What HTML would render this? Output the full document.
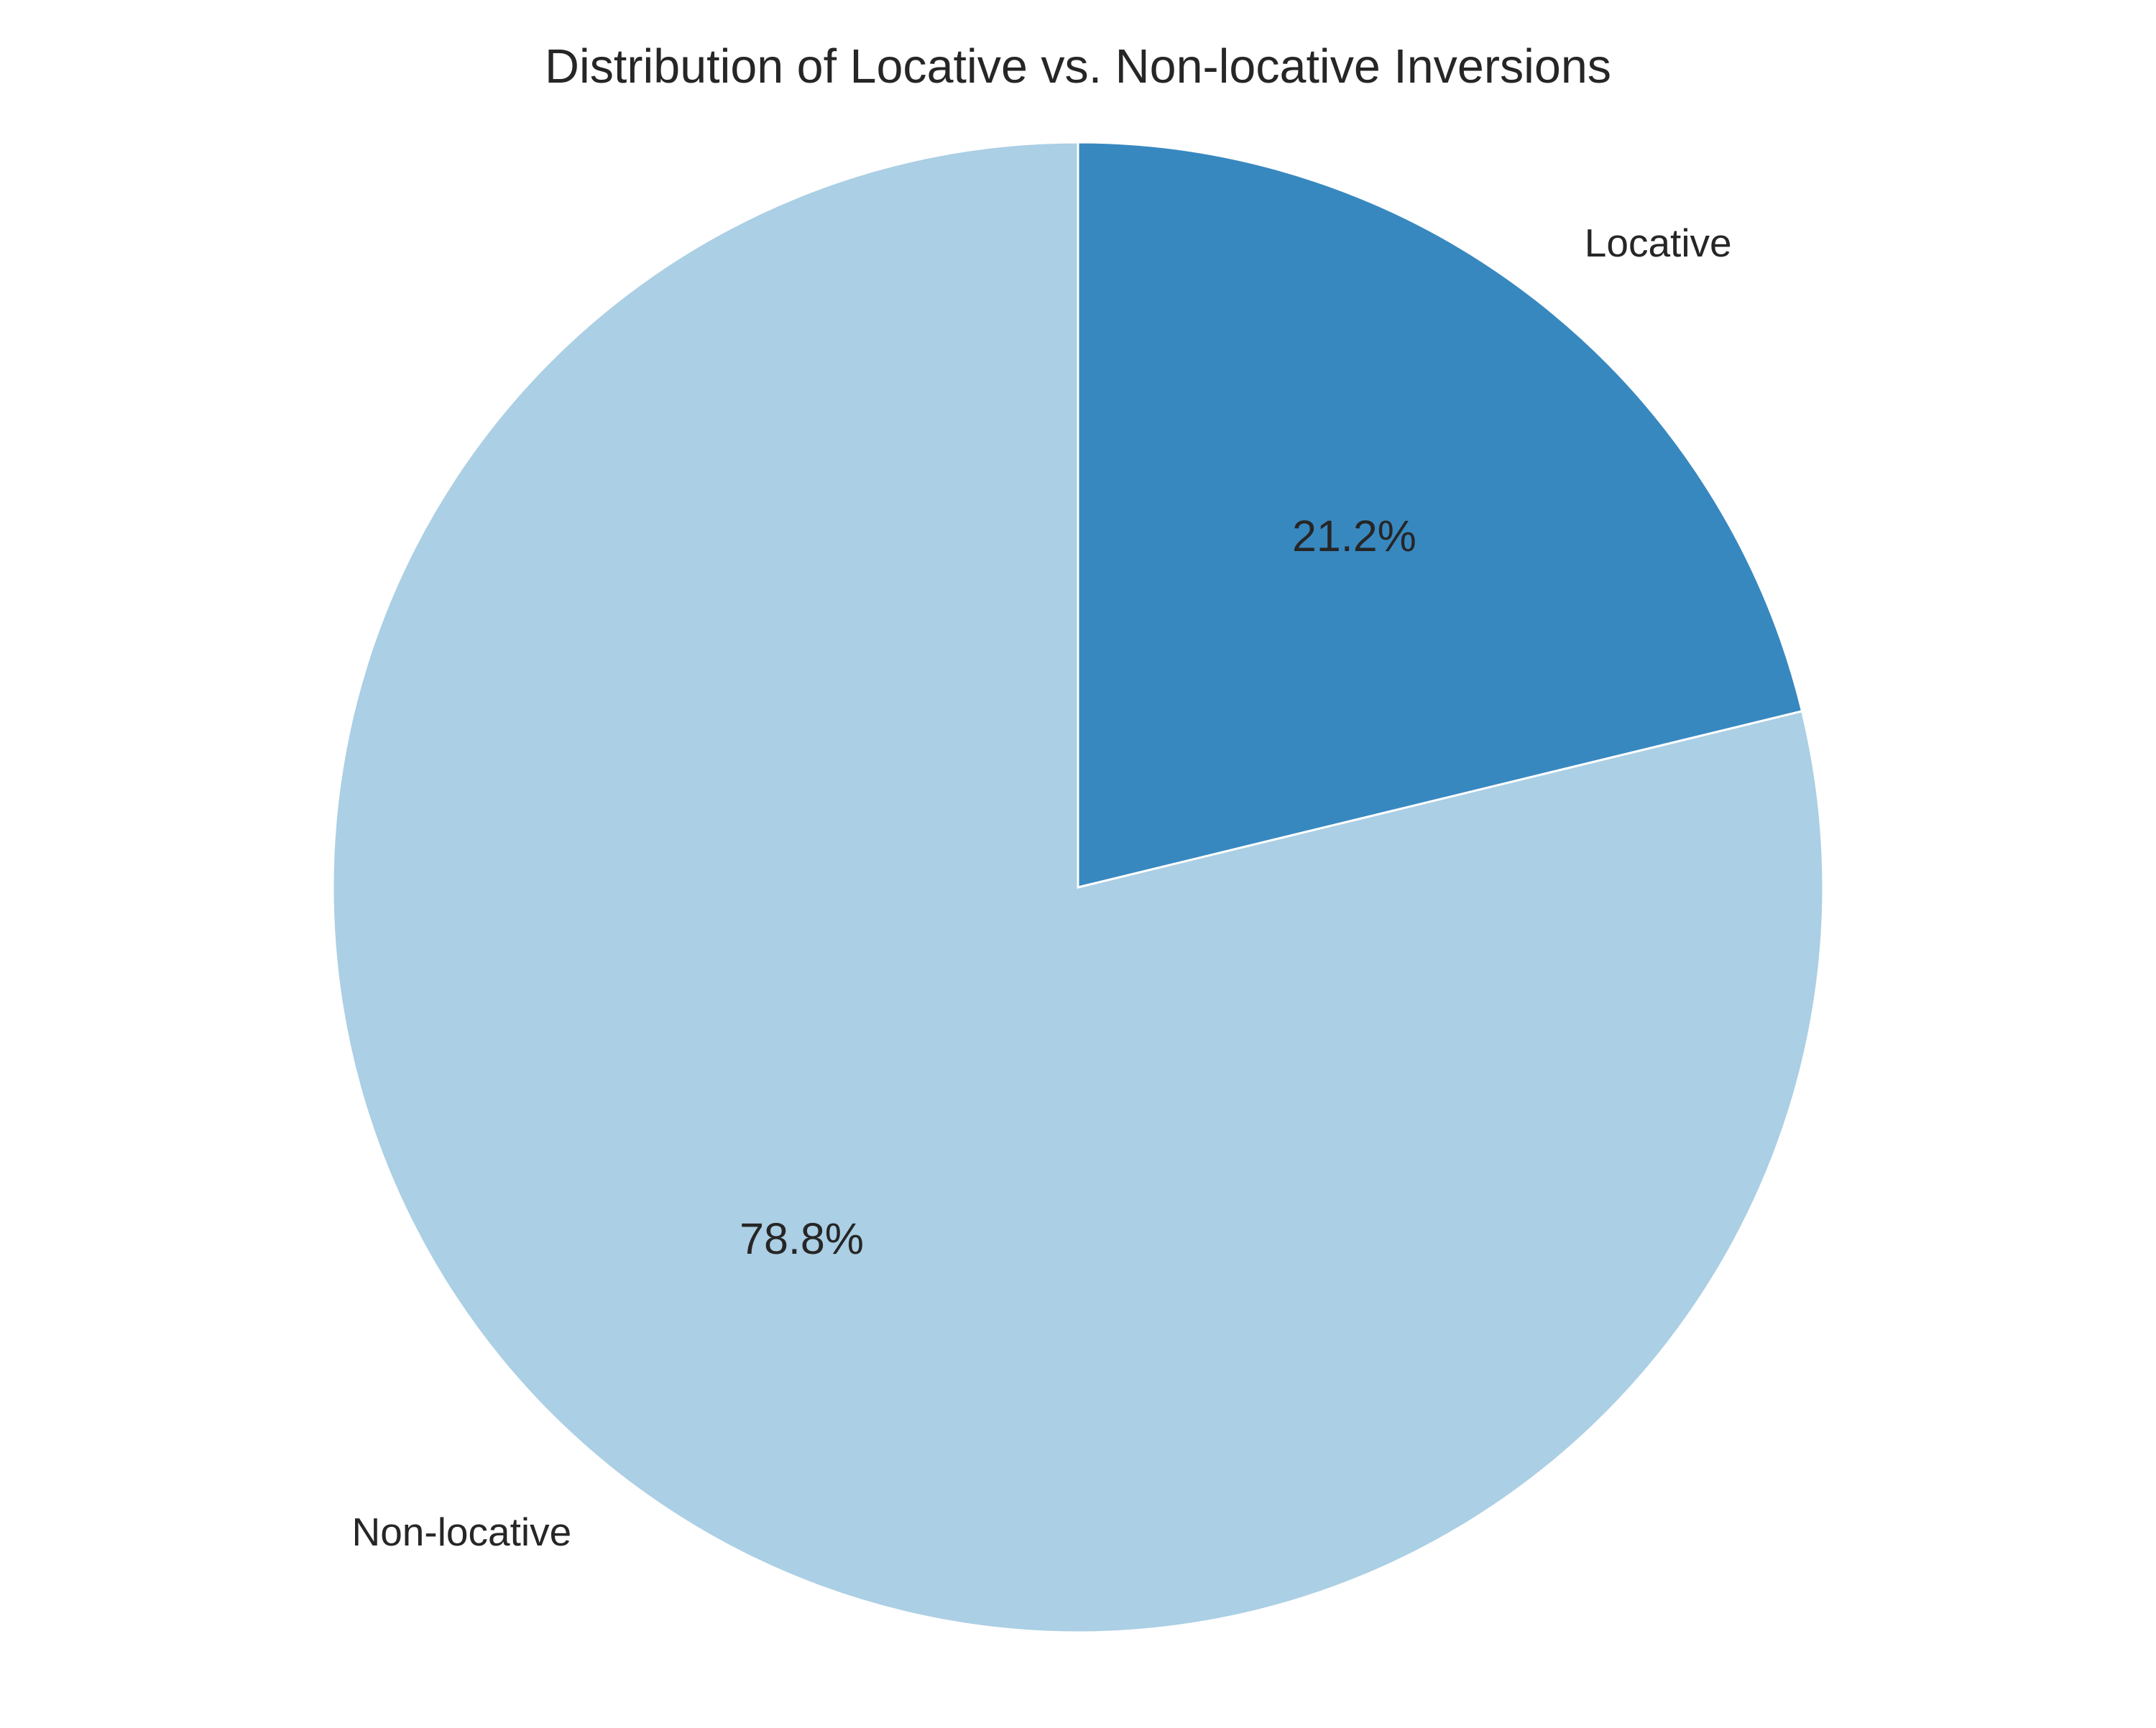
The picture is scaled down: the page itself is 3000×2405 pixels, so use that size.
<!DOCTYPE html>
<html><head><meta charset="utf-8"><style>
html,body{margin:0;padding:0;background:#fff;}
svg text{font-family:"Liberation Sans",Arial,sans-serif;fill:#262626;}
</style></head><body>
<svg id="chart" width="3000" height="2400" viewBox="0 0 3000 2400" xmlns="http://www.w3.org/2000/svg">
<rect width="3000" height="2400" fill="#fff"/>
<text x="1500" y="115" text-anchor="middle" font-size="67" textLength="1484" lengthAdjust="spacingAndGlyphs">Distribution of Locative vs. Non-locative Inversions</text>
<g id="slices"></g>
<g id="labels"></g>
</svg>
<script>
const categories = ["Locative", "Non-locative"];
const values = [21.2, 78.8];
const colors = ["#3888c0", "#abcfe4"];
const cx = 1500, cy = 1235, R = 1037;
const ns = "http://www.w3.org/2000/svg";
const total = values.reduce((a,b)=>a+b,0);
function pt(angDeg, r){ const a = angDeg*Math.PI/180; return [cx + r*Math.cos(a), cy - r*Math.sin(a)]; }
let start = 90;
const sg = document.getElementById('slices'), lg = document.getElementById('labels');
values.forEach((v,i)=>{
  const sweep = v/total*360;
  const end = start - sweep;
  const [x1,y1] = pt(start,R), [x2,y2] = pt(end,R);
  const large = sweep > 180 ? 1 : 0;
  const p = document.createElementNS(ns,'path');
  p.setAttribute('d', `M${cx},${cy} L${x1},${y1} A${R},${R} 0 ${large} 1 ${x2},${y2} Z`);
  p.setAttribute('fill', colors[i]);
  p.setAttribute('stroke', '#fff');
  p.setAttribute('stroke-width', '3');
  
  
  sg.appendChild(p);
  const mid = (start+end)/2;
  const [lx,ly] = pt(mid, R*1.1);
  const t = document.createElementNS(ns,'text');
  t.setAttribute('x', lx);
  t.setAttribute('y', ly + 19);
  t.setAttribute('font-size', '55');
  t.setAttribute('text-anchor', Math.cos(mid*Math.PI/180) >= 0 ? 'start' : 'end');
  t.textContent = categories[i];
  
  
  lg.appendChild(t);
  const [px,py] = pt(mid, R*0.6);
  const q = document.createElementNS(ns,'text');
  q.setAttribute('x', px);
  q.setAttribute('y', py + 21);
  q.setAttribute('font-size', '61');
  q.setAttribute('text-anchor', 'middle');
  q.textContent = v.toFixed(1) + '%';
  
  
  lg.appendChild(q);
  start = end;
});
</script>
</body></html>
